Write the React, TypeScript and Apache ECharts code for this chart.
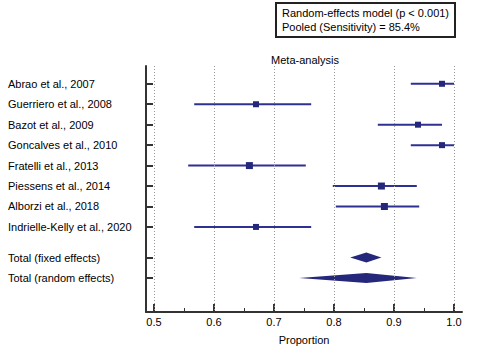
import React, { useEffect, useRef } from "react";
import * as echarts from "echarts";

const studies = [
  "Abrao et al., 2007",
  "Guerriero et al., 2008",
  "Bazot et al., 2009",
  "Goncalves et al., 2010",
  "Fratelli et al., 2013",
  "Piessens et al., 2014",
  "Alborzi et al., 2018",
  "Indrielle-Kelly et al., 2020",
];
const studyRows = [0, 1, 2, 3, 4, 5, 6, 7];
const estimates = [0.98, 0.67, 0.94, 0.98, 0.659, 0.879, 0.884, 0.67];
const lowerCI = [0.928, 0.567, 0.873, 0.928, 0.557, 0.798, 0.803, 0.567];
const upperCI = [1.0, 0.762, 0.98, 1.0, 0.753, 0.938, 0.942, 0.762];
const squareSizes = [6, 6, 6, 6, 7, 7, 7, 6];

const pooledNames = ["Total (fixed effects)", "Total (random effects)"];
const pooledRows = [8.5, 9.5];
const pooledEst = [0.854, 0.854];
const pooledLower = [0.827, 0.742];
const pooledUpper = [0.879, 0.938];

const xMajorTicks = [0.5, 0.6, 0.7, 0.8, 0.9, 1.0];
const xMinorTicks = [0.55, 0.65, 0.75, 0.85, 0.95];

const boxLines = ["Random-effects model (p < 0.001)", "Pooled (Sensitivity) = 85.4%"];

const FONT = "'Liberation Sans', Arial, sans-serif";
const LINE_COLOR = "#2f3192";
const MARK_COLOR = "#25287a";

export default function App() {
  const ref = useRef<HTMLDivElement>(null);
  useEffect(() => {
    if (!ref.current) return;
    const chart = echarts.init(ref.current, null, { renderer: "svg" });
    const labelMap: Record<string, string> = {};
    studyRows.forEach((r, i) => (labelMap[String(r)] = studies[i]));
    pooledRows.forEach((r, i) => (labelMap[String(r)] = pooledNames[i]));
    const allRows = [...studyRows, ...pooledRows];

    const studyData = studies.map((_, i) => [lowerCI[i], upperCI[i], estimates[i], studyRows[i], squareSizes[i]]);
    const pooledData = pooledNames.map((_, i) => [pooledLower[i], pooledUpper[i], pooledEst[i], pooledRows[i]]);

    const xMin = 0.5 - 8 / 600;
    const xMax = 1.0 + 8 / 600;

    chart.setOption({
      animation: false,
      textStyle: { fontFamily: FONT },
      title: {
        text: "Meta-analysis",
        left: 300,
        textAlign: "center",
        top: 49,
        textStyle: { fontSize: 11, fontWeight: "normal", color: "#000", fontFamily: FONT },
      },
      graphic: [
        {
          type: "rect",
          shape: { x: 276, y: 3, width: 179, height: 34 },
          style: { fill: "#fff", stroke: "#222", lineWidth: 2 },
        },
        {
          type: "text",
          x: 282,
          y: 7,
          style: { text: boxLines[0], fontSize: 11, fill: "#000", fontFamily: FONT },
        },
        {
          type: "text",
          x: 282,
          y: 21,
          style: { text: boxLines[1], fontSize: 11, fill: "#000", fontFamily: FONT },
        },
      ],
      grid: { left: 146, top: 66, right: 27, bottom: 35 },
      xAxis: [
        {
          type: "value",
          min: xMin,
          max: xMax,
          name: "Proportion",
          nameLocation: "middle",
          nameGap: 22,
          nameTextStyle: { fontSize: 11, color: "#000", fontFamily: FONT },
          axisLine: { show: true, onZero: false, lineStyle: { color: "#333", width: 2 } },
          axisTick: { show: true, inside: true, length: 8, customValues: xMajorTicks, lineStyle: { color: "#333", width: 2 } },
          axisLabel: {
            customValues: xMajorTicks,
            formatter: (v: number) => v.toFixed(1),
            fontSize: 11,
            color: "#000",
            margin: 4,
            fontFamily: FONT,
          },
          splitLine: { show: false },
        },
        {
          type: "value",
          min: xMin,
          max: xMax,
          position: "bottom",
          axisLine: { show: false, onZero: false },
          axisTick: { show: true, inside: true, length: 4, customValues: xMinorTicks, lineStyle: { color: "#333", width: 1 } },
          axisLabel: { show: false },
          splitLine: { show: false },
        },
      ],
      yAxis: {
        type: "value",
        inverse: true,
        min: -0.87,
        max: 11.16,
        axisLine: { show: true, onZero: false, lineStyle: { color: "#333", width: 2 } },
        axisTick: { show: true, inside: true, length: 7, customValues: allRows, lineStyle: { color: "#333", width: 2 } },
        axisLabel: {
          customValues: allRows,
          formatter: (v: number) => labelMap[String(v)] ?? "",
          align: "left",
          margin: 138,
          fontSize: 11,
          color: "#000",
          fontFamily: FONT,
        },
        splitLine: { show: false },
      },
      series: [
        {
          type: "custom",
          name: "studies",
          xAxisIndex: 0,
          renderItem: (params: any, api: any) => {
            const lo = api.coord([api.value(0), api.value(3)]);
            const hi = api.coord([api.value(1), api.value(3)]);
            const c = api.coord([api.value(2), api.value(3)]);
            const s = api.value(4);
            return {
              type: "group",
              children: [
                {
                  type: "line",
                  shape: { x1: lo[0], y1: lo[1], x2: hi[0], y2: hi[1] },
                  style: { stroke: LINE_COLOR, lineWidth: 2 },
                },
                {
                  type: "rect",
                  shape: { x: c[0] - s / 2, y: c[1] - s / 2, width: s, height: s },
                  style: { fill: MARK_COLOR },
                },
              ],
            };
          },
          data: studyData,
          markLine: {
            silent: true,
            symbol: "none",
            label: { show: false },
            lineStyle: { color: "#999", type: [1, 2], width: 1 },
            data: xMajorTicks.map((v) => ({ xAxis: v })),
          },
          z: 3,
        },
        {
          type: "custom",
          name: "pooled",
          xAxisIndex: 0,
          renderItem: (params: any, api: any) => {
            const lo = api.coord([api.value(0), api.value(3)]);
            const hi = api.coord([api.value(1), api.value(3)]);
            const c = api.coord([api.value(2), api.value(3)]);
            const h = 5;
            return {
              type: "polygon",
              shape: {
                points: [
                  [lo[0], lo[1]],
                  [c[0], c[1] - h],
                  [hi[0], hi[1]],
                  [c[0], c[1] + h],
                ],
              },
              style: { fill: MARK_COLOR },
            };
          },
          data: pooledData,
          z: 3,
        },
      ],
    });
    return () => chart.dispose();
  }, []);
  return <div ref={ref} style={{ position: "absolute", left: 0, top: 0, width: 489, height: 350 }} />;
}
